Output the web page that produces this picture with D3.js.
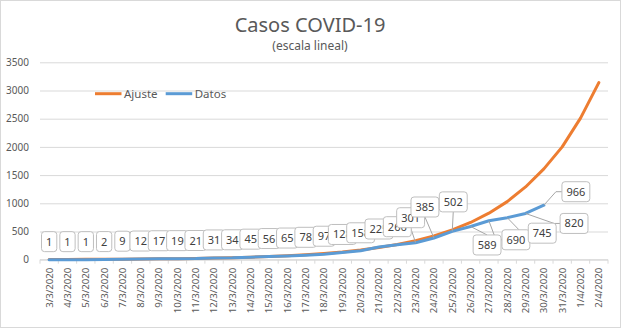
<!DOCTYPE html>
<html>
<head>
<meta charset="utf-8">
<script src="https://cdn.jsdelivr.net/npm/d3@7"></script>
<style>
  html, body { margin: 0; padding: 0; background: #fff; }
  svg { display: block; font-family: "Noto Sans", "Open Sans", sans-serif; }
</style>
</head>
<body>
<svg id="chart" width="621" height="328"></svg>
<script>
// Daily dates on the category axis
const categories = [
  "3/3/2020", "4/3/2020", "5/3/2020", "6/3/2020", "7/3/2020", "8/3/2020", "9/3/2020",
  "10/3/2020", "11/3/2020", "12/3/2020", "13/3/2020", "14/3/2020", "15/3/2020", "16/3/2020",
  "17/3/2020", "18/3/2020", "19/3/2020", "20/3/2020", "21/3/2020", "22/3/2020", "23/3/2020",
  "24/3/2020", "25/3/2020", "26/3/2020", "27/3/2020", "28/3/2020", "29/3/2020", "30/3/2020",
  "31/3/2020", "1/4/2020", "2/4/2020"
];

// Confirmed cases (labelled series)
const datos = [1, 1, 1, 2, 9, 12, 17, 19, 21, 31, 34, 45, 56, 65, 78, 97,
               128, 158, 225, 266, 301, 385, 502, 589, 690, 745, 820, 966];

// Fitted curve
const ajuste = [4, 5, 6, 7, 9, 12, 15, 18, 23, 29, 36, 45, 57, 71, 89, 111,
                138, 173, 216, 270, 338, 422, 528, 660, 825, 1030, 1290, 1610,
                2000, 2510, 3140];

const yTicks = [0, 500, 1000, 1500, 2000, 2500, 3000, 3500];

const seriesNames = ["Ajuste", "Datos"];
const seriesColors = ["#ED7D31", "#5B9BD5"];

// Hand-placed callouts for the crowded end of the series (offset in px from the point)
const labelNudge = {
  20: [-5, -25], 21: [-9, -31], 22: [1, -29.5], 23: [16.5, 18.5],
  24: [27, 19], 25: [35, 15.5], 26: [48.5, 10], 27: [32, -13.5]
};

const svg = d3.select("#chart");
const W = 621, H = 328;
const plotLeft = 40, plotRight = 608, plotTop = 62.3, plotBottom = 259.7;

// outer chart border
svg.append("rect").attr("x", 0.5).attr("y", 0.5).attr("width", W - 1).attr("height", H - 1)
  .attr("fill", "#fff").attr("stroke", "#d9d9d9");

const x = d3.scaleBand().domain(categories).range([plotLeft, plotRight]).paddingInner(0).paddingOuter(0);
const y = d3.scaleLinear().domain([0, 3500]).range([plotBottom, plotTop]);
const cx = c => x(c) + x.bandwidth() / 2;

// Title
svg.append("text").attr("x", 310).attr("y", 32.3).attr("text-anchor", "middle")
  .attr("font-size", 20).attr("fill", "#595959").text("Casos COVID-19");
svg.append("text").attr("x", 310).attr("y", 50).attr("text-anchor", "middle")
  .attr("font-size", 12).attr("fill", "#595959").text("(escala lineal)");

// Y axis with gridlines
const yAxis = svg.append("g").attr("transform", `translate(${plotLeft},0)`)
  .call(d3.axisLeft(y).tickValues(yTicks).tickSize(-(plotRight - plotLeft)).tickPadding(11)
    .tickFormat(d3.format("d")));
yAxis.select(".domain").remove();
yAxis.selectAll(".tick line").attr("stroke", "#d9d9d9").attr("stroke-width", 1);
yAxis.selectAll(".tick text").attr("fill", "#595959").attr("font-size", 10)
  .attr("font-family", "\"Noto Sans\", sans-serif");

// X axis: baseline, boundary ticks and rotated date labels
const xg = svg.append("g");
xg.append("line").attr("x1", plotLeft).attr("x2", plotRight).attr("y1", plotBottom).attr("y2", plotBottom)
  .attr("stroke", "#d9d9d9");
xg.selectAll("line.tk").data(d3.range(categories.length + 1)).join("line").attr("class", "tk")
  .attr("x1", i => plotLeft + i * x.step()).attr("x2", i => plotLeft + i * x.step())
  .attr("y1", plotBottom).attr("y2", plotBottom + 4).attr("stroke", "#d9d9d9");
xg.selectAll("text").data(categories).join("text")
  .attr("transform", c => `translate(${cx(c)},${plotBottom + 8}) rotate(-90)`)
  .attr("text-anchor", "end").attr("dy", "0.35em")
  .attr("font-size", 9.6).attr("fill", "#595959").text(c => c);

// Series lines
const line = d3.line().x((d, i) => cx(categories[i])).y(d => y(d));
[ajuste, datos].forEach((s, k) => {
  svg.append("path").datum(s).attr("d", line).attr("fill", "none")
    .attr("stroke", seriesColors[k]).attr("stroke-width", 3)
    .attr("stroke-linejoin", "round").attr("stroke-linecap", "round");
});

// Legend
const legend = svg.append("g");
const legendX = [95, 165.7];
seriesNames.forEach((n, k) => {
  legend.append("line").attr("x1", legendX[k]).attr("x2", legendX[k] + 26.5)
    .attr("y1", 93.7).attr("y2", 93.7).attr("stroke", seriesColors[k]).attr("stroke-width", 3);
  legend.append("text").attr("x", legendX[k] + 29).attr("y", 97.7)
    .attr("font-size", 11.5).attr("fill", "#595959").text(n);
});

// Data label callouts
const labels = svg.append("g");
datos.forEach((v, i) => {
  const px = cx(categories[i]), py = y(v);
  const [dx, dy] = labelNudge[i] || [0, -18];
  const lx = px + dx, ly = py + dy;
  const g = labels.append("g");
  const t = g.append("text").attr("x", lx).attr("y", ly + 4).attr("text-anchor", "middle")
    .attr("font-size", 11).attr("fill", "#404040").text(v);
  const tw = t.node().getComputedTextLength();
  const bw = tw + 9, bh = 20;
  const x0 = lx - bw / 2, x1 = lx + bw / 2, y0 = ly - bh / 2, y1 = ly + bh / 2;
  if (labelNudge[i]) {
    let pts;
    if (x0 - px > 10) {
      pts = [[x0, ly], [x0 - 6, ly], [px, py]];
    } else if (py > y1) {
      pts = [[lx, y1], [px, py]];
    } else {
      pts = [[lx, y0], [px, py]];
    }
    labels.insert("path", ":first-child").attr("d", d3.line()(pts)).attr("fill", "none")
      .attr("stroke", "#a6a6a6").attr("stroke-width", 1);
  }
  g.insert("rect", "text").attr("x", x0).attr("y", y0).attr("width", bw).attr("height", bh)
    .attr("rx", 3).attr("fill", "#fff").attr("stroke", "#bfbfbf").attr("stroke-width", 1);
});
</script>
</body>
</html>
